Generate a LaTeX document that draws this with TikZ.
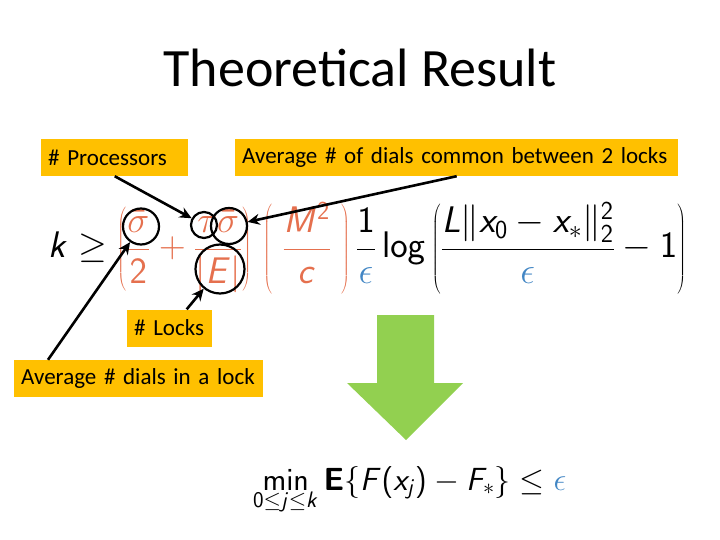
\RequirePackage{fix-cm}
\documentclass[tikz,border=0pt]{standalone}
\usepackage[no-math]{fontspec}
\usetikzlibrary{arrows.meta}
\newfontfamily\slidefont{Carlito}
\SetSymbolFont{operators}{normal}{OT1}{cmss}{m}{n}
\DeclareMathAlphabet{\mathss}{OT1}{cmss}{m}{sl}
\DeclareMathAlphabet{\mathssbf}{OT1}{cmss}{bx}{n}
\definecolor{tagfill}{RGB}{255,192,0}
\definecolor{termred}{RGB}{229,112,78}
\definecolor{epsblue}{RGB}{66,134,196}
\definecolor{arrowgreen}{RGB}{146,208,80}
\newcommand{\eps}{{\color{epsblue}\epsilon}}
\tikzset{
  tag/.style={fill=tagfill,inner xsep=7pt,inner ysep=0pt,minimum height=37pt,align=left,anchor=west,font=\slidefont\fontsize{23}{27}\selectfont},
  ring/.style={draw,circle,line width=2.2pt,inner sep=0pt},
  pointer/.style={->,line width=2.6pt}
}
\begin{document}
\begin{tikzpicture}[x=1pt,y=-1pt,line join=round,>={Stealth[length=12pt,width=11pt]}]
\useasboundingbox (0,0) rectangle (720,540);
\node[font=\slidefont\fontsize{54}{60}\selectfont] (title) at (360,68) {Theoretical Result};
\node[tag,text width=133pt] (proc) at (41,157.5) {\# Processors};
\node[tag,text width=429pt] (common) at (235,157.5) {Average \# of dials common between 2 locks};
\node[tag,text width=71pt] (locks) at (127,328) {\# Locks};
\node[tag,text width=235pt] (dials) at (14,378.5) {Average \# dials in a lock};
\node[anchor=base west,inner sep=0pt,font=\fontsize{37}{42}\selectfont] (bound) at (48,258)
  {$\displaystyle \mathss{k}\geq {\color{termred}\left(\frac{\bar\sigma}{2}+\frac{\tau\bar\sigma}{|\mathss{E}|}\right)\,\left(\;\frac{\mathss{M}^2}{\mathss{c}}\;\right)}\,\frac{1}{\eps}\log\left(\frac{\mathss{L}\|\mathss{x}_0-\mathss{x}_*\|_2^2}{\eps}-1\right)$};
\node[ring,minimum size=36pt] (sig) at (141,226.5) {};
\node[ring,minimum size=26pt] (tau) at (204,225) {};
\node[ring,minimum size=36pt] (sigb) at (229,226) {};
\node[ring,minimum size=49pt] (card) at (220,269) {};
\draw[pointer] (proc.south) -- (tau);
\draw[pointer] (common.south) -- (sigb);
\draw[pointer] ([xshift=17pt]locks.north) -- (card);
\draw[pointer] ([xshift=34pt]dials.north west) -- (sig);
\fill[arrowgreen] (377,315) -- (434,315) -- (434,383) -- (463,383) -- (406,440) -- (347,383) -- (377,383) -- cycle;
\node[anchor=base west,inner sep=0pt,font=\fontsize{32}{36}\selectfont] (goal) at (253,490)
  {$\displaystyle \min_{0\leq \mathss{j}\leq \mathss{k}}\mathssbf{E}\{\mathss{F}(\mathss{x}_{\mathss{j}})-\mathss{F}_*\}\leq\eps$};
\end{tikzpicture}
\end{document}
